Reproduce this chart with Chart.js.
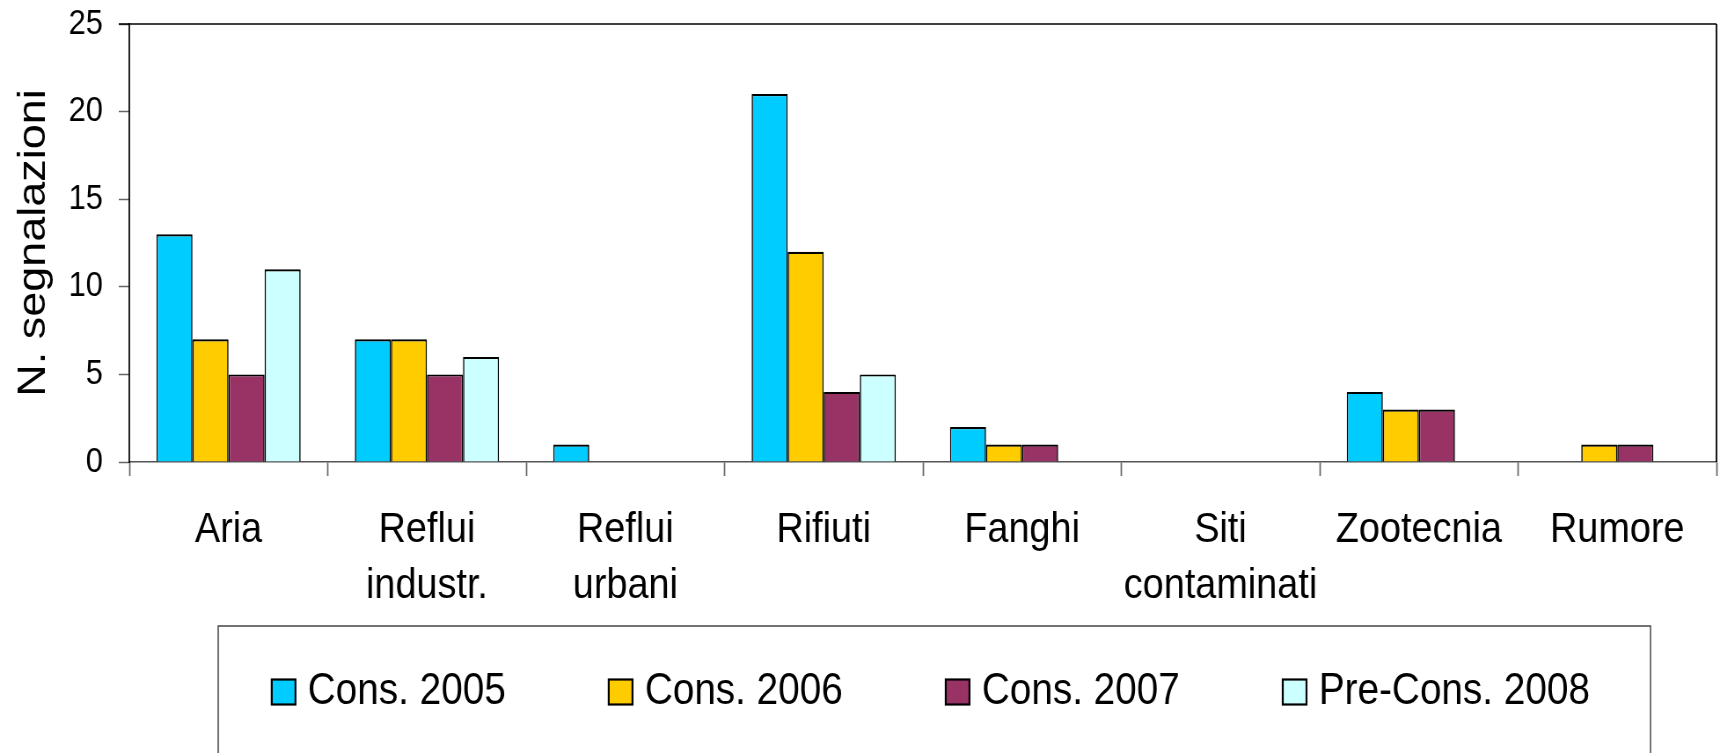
<!DOCTYPE html>
<html>
<head>
<meta charset="utf-8">
<script src="https://cdn.jsdelivr.net/npm/chart.js@4"></script>
<style>
  body { margin: 0; background: #fff; overflow: hidden; }
  /* canvas is drawn wider and squeezed to 1720px, the original has narrow text */
  #chart { width: 1720px; height: 753px; display: block; }
</style>
</head>
<body>
<canvas id="chart" width="1955" height="753" style="width:1720px;height:753px"></canvas>
<script>
const categories = ['Aria', ['Reflui', 'industr.'], ['Reflui', 'urbani'], 'Rifiuti', 'Fanghi', ['Siti', 'contaminati'], 'Zootecnia', 'Rumore'];
const seriesNames = ['Cons. 2005', 'Cons. 2006', 'Cons. 2007', 'Pre-Cons. 2008'];
const cons2005 = [13, 7, 1, 21, 2, 0, 4, 0];
const cons2006 = [7, 7, 0, 12, 1, 0, 3, 1];
const cons2007 = [5, 5, 0, 4, 1, 0, 3, 1];
const preCons2008 = [11, 6, 0, 5, 0, 0, 0, 0];
const yTicks = [0, 5, 10, 15, 20, 25];

const colors = ['#00ccff', '#ffcc00', '#993366', '#ccffff'];
const FONT = "'Liberation Sans', Arial, sans-serif";

// plot area frame (top + right) like the excel original
const framePlugin = {
    id: 'frame',
    afterDraw: chart => {
        const { ctx, chartArea } = chart;
        ctx.save();
        ctx.strokeStyle = '#000';
        ctx.lineWidth = 1.5;
        ctx.beginPath();
        ctx.moveTo(chartArea.left - 12, chartArea.top);
        ctx.lineTo(chartArea.right, chartArea.top);
        ctx.stroke();
        ctx.lineWidth = 1.8;
        ctx.beginPath();
        ctx.moveTo(chartArea.right, chartArea.top);
        ctx.lineTo(chartArea.right, chartArea.bottom);
        ctx.stroke();
        ctx.restore();
    }
};

// legend in a box below the chart
const boxLegendPlugin = {
    id: 'boxLegend',
    afterDraw: chart => {
        const ctx = chart.ctx;
        const frame = { left: 248, top: 626, right: 1876 };
        const boxW = 27, boxH = 25;
        const textGap = 14;
        const itemGap = 117;
        const midY = 692;
        ctx.save();
        ctx.strokeStyle = '#444';
        ctx.lineWidth = 1.5;
        ctx.strokeRect(frame.left, frame.top, frame.right - frame.left, 200);

        ctx.font = '44px ' + FONT;
        const items = chart.data.datasets.map(ds => ({
            label: ds.label,
            color: ds.backgroundColor,
            w: boxW + textGap + ctx.measureText(ds.label).width
        }));
        const total = items.reduce((s, it) => s + it.w, 0) + itemGap * (items.length - 1);
        let x = (frame.left + frame.right) / 2 - total / 2 - 4;
        items.forEach(it => {
            ctx.fillStyle = it.color;
            ctx.fillRect(x, midY - boxH / 2, boxW, boxH);
            ctx.strokeStyle = '#000';
            ctx.lineWidth = 2.2;
            ctx.strokeRect(x, midY - boxH / 2, boxW, boxH);
            ctx.fillStyle = '#000';
            ctx.textBaseline = 'middle';
            ctx.textAlign = 'left';
            ctx.fillText(it.label, x + boxW + textGap, midY);
            x += it.w + itemGap;
        });
        ctx.restore();
    }
};

const allSeries = [cons2005, cons2006, cons2007, preCons2008];

const chart = new Chart(document.getElementById('chart').getContext('2d'), {
    type: 'bar',
    plugins: [framePlugin, boxLegendPlugin],
    data: {
        labels: categories,
        datasets: allSeries.map((values, i) => ({
            label: seriesNames[i],
            data: values,
            backgroundColor: colors[i],
            borderColor: '#000',
            borderWidth: { top: 2.2, left: 1.6, right: 1.6, bottom: 0 },
            categoryPercentage: 0.727,
            barPercentage: 1
        }))
    },
    options: {
        responsive: false,
        animation: false,
        layout: {
            padding: { left: 0, top: 24, right: 4, bottom: 151 }
        },
        plugins: {
            legend: { display: false },
            tooltip: { enabled: false }
        },
        scales: {
            x: {
                z: 1,
                afterFit: scale => {
                    scale.height = 140;
                    scale.paddingLeft = 0;
                    scale.paddingRight = 0;
                },
                grid: {
                    offset: true,
                    drawOnChartArea: false,
                    tickLength: 14,
                    tickColor: '#666',
                    tickWidth: 1.7
                },
                border: { color: '#555', width: 1.5 },
                ticks: {
                    color: '#000',
                    padding: 26,
                    maxRotation: 0,
                    autoSkip: false,
                    font: { family: FONT, size: 43, lineHeight: 1.3 }
                }
            },
            y: {
                z: 1,
                min: 0,
                max: 25,
                afterFit: scale => {
                    scale.width = 147;
                    scale.paddingTop = 0;
                    scale.paddingBottom = 0;
                },
                afterBuildTicks: scale => {
                    scale.ticks = yTicks.map(v => ({ value: v }));
                },
                grid: {
                    drawOnChartArea: false,
                    tickLength: 12,
                    tickColor: '#666',
                    tickWidth: 1.5
                },
                border: { color: '#000', width: 1.8 },
                ticks: {
                    color: '#000',
                    padding: 18,
                    font: { family: FONT, size: 35 }
                },
                title: {
                    display: true,
                    text: 'N. segnalazioni',
                    color: '#000',
                    padding: { top: 12, bottom: 0 },
                    font: { family: FONT, size: 45, lineHeight: 1.2 }
                }
            }
        }
    }
});
</script>
</body>
</html>
